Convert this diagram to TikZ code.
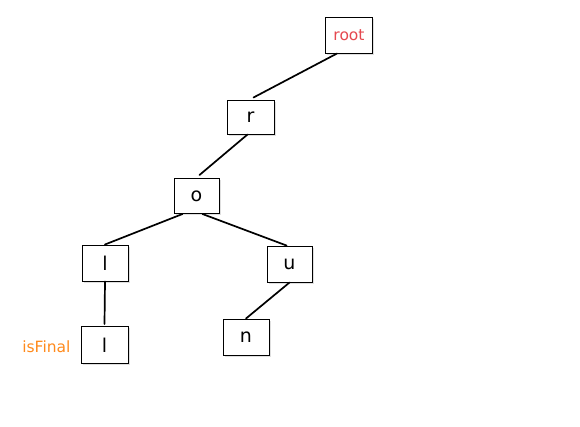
\documentclass[tikz,border=0pt]{standalone}
\usepackage{fontspec}
\setmainfont{DejaVu Sans}
\usetikzlibrary{shadows}
\definecolor{rootred}{HTML}{E5484F}
\definecolor{finalorange}{HTML}{FF8A1C}
\tikzset{
  trie/.style={draw=black, line width=1pt, fill=white, inner sep=0pt,
    minimum width=46pt, minimum height=36pt,
    font=\fontsize{19}{19}\selectfont,
    drop shadow={shadow xshift=1.5pt, shadow yshift=-1.5pt, opacity=0.25}},
  edge/.style={line width=1.7pt, line cap=round},
  tag/.style={font=\fontsize{15.5}{15.5}\selectfont}
}
\begin{document}
\begin{tikzpicture}[x=1pt, y=-1pt]
  \useasboundingbox (0,0) rectangle (580,426);
  % trie nodes
  \node[trie, minimum width=47pt] (root) at (349,35) {\textcolor{rootred}{\fontsize{15.5}{15.5}\selectfont root}};
  \node[trie, minimum width=47pt, minimum height=34pt] (r) at (250.5,117) {r};
  \node[trie, minimum width=45pt, minimum height=35pt] (o) at (196.5,196) {o};
  \node[trie] (l1) at (105,263) {l};
  \node[trie, minimum width=47pt, minimum height=37pt] (l2) at (104.5,345) {l};
  \node[trie, minimum width=45pt] (u) at (289.5,264) {u};
  \node[trie] (n) at (246,337) {n};
  % final-word marker
  \node[tag, text=finalorange, anchor=east] (final) at (74,347) {isFinal};
  % links between nodes
  \draw[edge] ([xshift=-12pt]root.south) -- ([xshift=3pt,yshift=2pt]r.north);
  \draw[edge] ([xshift=-3pt]r.south) -- ([xshift=3pt,yshift=3pt]o.north);
  \draw[edge] ([xshift=-14pt]o.south) -- (l1.north);
  \draw[edge] ([xshift=6pt]o.south) -- ([xshift=-3pt]u.north);
  \draw[edge] (l1.south) -- ([yshift=2pt]l2.north);
  \draw[edge] (u.south) -- (n.north);
\end{tikzpicture}
\end{document}
